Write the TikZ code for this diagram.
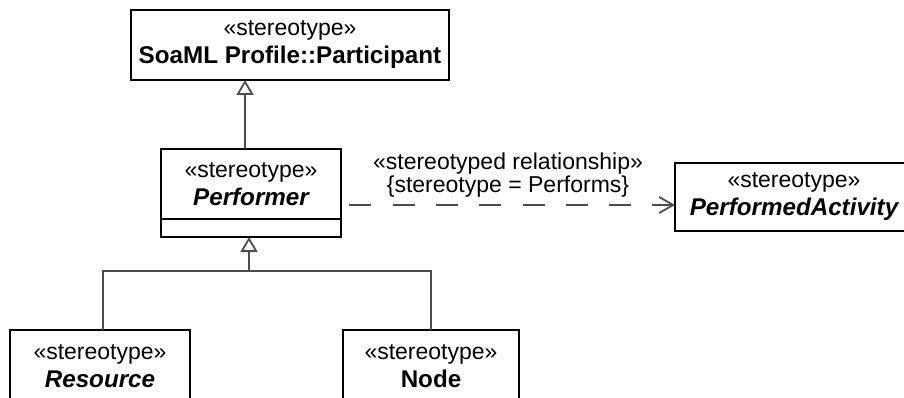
\documentclass[tikz,border=0pt]{standalone}
\usepackage{fontspec}
\setmainfont{Liberation Sans}
\usetikzlibrary{arrows.meta}
\newcommand{\clsname}[1]{{\fontsize{24.2}{28}\selectfont\bfseries #1}}
\tikzset{
  stereobox/.style={draw=black, line width=1.8pt, fill=white, align=center, inner sep=0pt,
    outer sep=0pt, font=\fontsize{23}{28}\selectfont},
  genline/.style={draw=black!70, line width=1.8pt},
  genarrow/.style={genline, -{Triangle[open, length=15pt, width=17pt]}},
  depline/.style={genline, dash pattern=on 22pt off 21.3pt, dash phase=35pt,
    -{Straight Barb[length=14pt, width=16pt]}},
  rellabel/.style={font=\fontsize{23}{23}\selectfont, align=center, inner sep=0pt}
}
\begin{document}
\begin{tikzpicture}[x=1pt, y=-1pt]
\useasboundingbox (0,0) rectangle (904,398);
\clip (0,0) rectangle (904,398);
% classes
\node[stereobox, minimum width=318pt, minimum height=70pt] (participant) at (290,45) {«stereotype»\\\clsname{SoaML Profile::Participant}};
\node[stereobox, minimum width=180pt, minimum height=70pt] (performer) at (251,184) {«stereotype»\\\clsname{\itshape Performer}};
\node[stereobox, minimum width=180pt, minimum height=18pt, anchor=north] (perfcomp) at (performer.south) {};
\node[stereobox, minimum width=238pt, minimum height=68pt] (activity) at (794,197) {«stereotype»\\\clsname{\itshape PerformedActivity}};
\node[stereobox, minimum width=180pt, minimum height=72pt] (resource) at (100,366) {«stereotype»\\\clsname{\itshape Resource}};
\node[stereobox, minimum width=176pt, minimum height=72pt] (nodebox) at (431,366) {«stereotype»\\\clsname{Node}};
% generalizations
\coordinate (upx) at (245,0);
\draw[genarrow] (performer.north -| upx) -- (participant.south -| upx);
\coordinate (bar) at (249,271);
\coordinate (barL) at (103,271);
\coordinate (barR) at (431,271);
\draw[genarrow] (bar) -- (bar |- perfcomp.south);
\draw[genline] (barL |- resource.north) -- (barL) -- (barR) -- (barR |- nodebox.north);
% dependency
\coordinate (dep) at (0,205);
\draw[depline] (dep -| performer.east) -- (dep -| activity.west)
  node[midway, above=7pt, rellabel] {«stereotyped relationship»\\\{stereotype = Performs\}};
\end{tikzpicture}
\end{document}
